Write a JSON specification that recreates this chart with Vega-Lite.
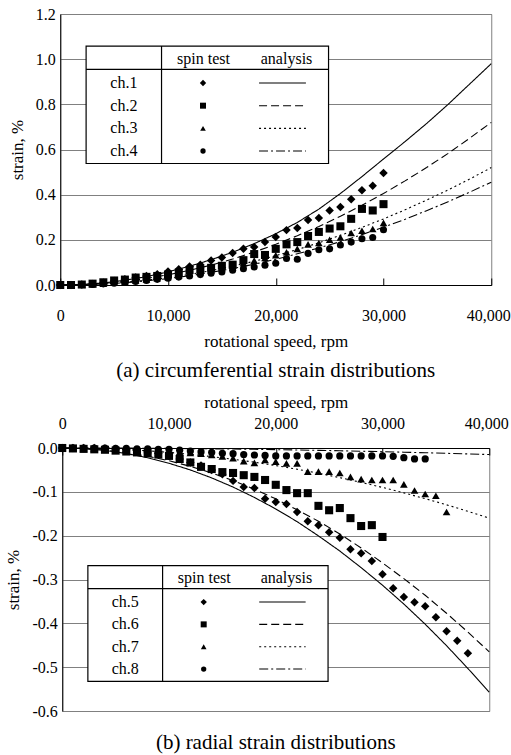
{
  "$schema": "https://vega.github.io/schema/vega-lite/v6.json",
  "background": "white",
  "padding": {"left": 4, "top": 5, "right": 0, "bottom": 0},
  "columns": 1,
  "center": true,
  "spacing": 10,
  "datasets": {
    "t_test": [
      {"ch":"ch.1","rpm":0,"strain":0},{"ch":"ch.1","rpm":1000,"strain":0},{"ch":"ch.1","rpm":2000,"strain":0.002},{"ch":"ch.1","rpm":3000,"strain":0.005},{"ch":"ch.1","rpm":4000,"strain":0.01},{"ch":"ch.1","rpm":5000,"strain":0.018},{"ch":"ch.1","rpm":6000,"strain":0.026},{"ch":"ch.1","rpm":7000,"strain":0.033},{"ch":"ch.1","rpm":8000,"strain":0.04},{"ch":"ch.1","rpm":9000,"strain":0.048},{"ch":"ch.1","rpm":10000,"strain":0.06},{"ch":"ch.1","rpm":11000,"strain":0.07},{"ch":"ch.1","rpm":12000,"strain":0.082},{"ch":"ch.1","rpm":13000,"strain":0.09},{"ch":"ch.1","rpm":14000,"strain":0.108},{"ch":"ch.1","rpm":15000,"strain":0.122},{"ch":"ch.1","rpm":16000,"strain":0.142},{"ch":"ch.1","rpm":17000,"strain":0.16},{"ch":"ch.1","rpm":18000,"strain":0.168},{"ch":"ch.1","rpm":19000,"strain":0.19},{"ch":"ch.1","rpm":20000,"strain":0.213},{"ch":"ch.1","rpm":21000,"strain":0.243},{"ch":"ch.1","rpm":22000,"strain":0.252},{"ch":"ch.1","rpm":23000,"strain":0.288},{"ch":"ch.1","rpm":24000,"strain":0.297},{"ch":"ch.1","rpm":25000,"strain":0.33},{"ch":"ch.1","rpm":26000,"strain":0.345},{"ch":"ch.1","rpm":27000,"strain":0.38},{"ch":"ch.1","rpm":28000,"strain":0.42},{"ch":"ch.1","rpm":29000,"strain":0.44},{"ch":"ch.1","rpm":30000,"strain":0.496},
      {"ch":"ch.2","rpm":0,"strain":0},{"ch":"ch.2","rpm":1000,"strain":0},{"ch":"ch.2","rpm":2000,"strain":0.002},{"ch":"ch.2","rpm":3000,"strain":0.006},{"ch":"ch.2","rpm":4000,"strain":0.012},{"ch":"ch.2","rpm":5000,"strain":0.02},{"ch":"ch.2","rpm":6000,"strain":0.024},{"ch":"ch.2","rpm":7000,"strain":0.033},{"ch":"ch.2","rpm":8000,"strain":0.036},{"ch":"ch.2","rpm":9000,"strain":0.04},{"ch":"ch.2","rpm":10000,"strain":0.046},{"ch":"ch.2","rpm":11000,"strain":0.055},{"ch":"ch.2","rpm":12000,"strain":0.066},{"ch":"ch.2","rpm":13000,"strain":0.07},{"ch":"ch.2","rpm":14000,"strain":0.076},{"ch":"ch.2","rpm":15000,"strain":0.085},{"ch":"ch.2","rpm":16000,"strain":0.09},{"ch":"ch.2","rpm":17000,"strain":0.11},{"ch":"ch.2","rpm":18000,"strain":0.137},{"ch":"ch.2","rpm":19000,"strain":0.133},{"ch":"ch.2","rpm":20000,"strain":0.16},{"ch":"ch.2","rpm":21000,"strain":0.18},{"ch":"ch.2","rpm":22000,"strain":0.19},{"ch":"ch.2","rpm":23000,"strain":0.217},{"ch":"ch.2","rpm":24000,"strain":0.235},{"ch":"ch.2","rpm":25000,"strain":0.25},{"ch":"ch.2","rpm":26000,"strain":0.26},{"ch":"ch.2","rpm":27000,"strain":0.293},{"ch":"ch.2","rpm":28000,"strain":0.337},{"ch":"ch.2","rpm":29000,"strain":0.33},{"ch":"ch.2","rpm":30000,"strain":0.358},
      {"ch":"ch.3","rpm":0,"strain":0},{"ch":"ch.3","rpm":1000,"strain":0},{"ch":"ch.3","rpm":2000,"strain":0.001},{"ch":"ch.3","rpm":3000,"strain":0.003},{"ch":"ch.3","rpm":4000,"strain":0.006},{"ch":"ch.3","rpm":5000,"strain":0.01},{"ch":"ch.3","rpm":6000,"strain":0.015},{"ch":"ch.3","rpm":7000,"strain":0.02},{"ch":"ch.3","rpm":8000,"strain":0.025},{"ch":"ch.3","rpm":9000,"strain":0.03},{"ch":"ch.3","rpm":10000,"strain":0.036},{"ch":"ch.3","rpm":11000,"strain":0.042},{"ch":"ch.3","rpm":12000,"strain":0.05},{"ch":"ch.3","rpm":13000,"strain":0.057},{"ch":"ch.3","rpm":14000,"strain":0.066},{"ch":"ch.3","rpm":15000,"strain":0.075},{"ch":"ch.3","rpm":16000,"strain":0.085},{"ch":"ch.3","rpm":17000,"strain":0.096},{"ch":"ch.3","rpm":18000,"strain":0.108},{"ch":"ch.3","rpm":19000,"strain":0.12},{"ch":"ch.3","rpm":20000,"strain":0.132},{"ch":"ch.3","rpm":21000,"strain":0.145},{"ch":"ch.3","rpm":22000,"strain":0.16},{"ch":"ch.3","rpm":23000,"strain":0.18},{"ch":"ch.3","rpm":24000,"strain":0.186},{"ch":"ch.3","rpm":25000,"strain":0.2},{"ch":"ch.3","rpm":26000,"strain":0.21},{"ch":"ch.3","rpm":27000,"strain":0.23},{"ch":"ch.3","rpm":28000,"strain":0.24},{"ch":"ch.3","rpm":29000,"strain":0.248},{"ch":"ch.3","rpm":30000,"strain":0.275},
      {"ch":"ch.4","rpm":0,"strain":0},{"ch":"ch.4","rpm":1000,"strain":0},{"ch":"ch.4","rpm":2000,"strain":0.001},{"ch":"ch.4","rpm":3000,"strain":0.002},{"ch":"ch.4","rpm":4000,"strain":0.005},{"ch":"ch.4","rpm":5000,"strain":0.008},{"ch":"ch.4","rpm":6000,"strain":0.012},{"ch":"ch.4","rpm":7000,"strain":0.016},{"ch":"ch.4","rpm":8000,"strain":0.02},{"ch":"ch.4","rpm":9000,"strain":0.025},{"ch":"ch.4","rpm":10000,"strain":0.03},{"ch":"ch.4","rpm":11000,"strain":0.035},{"ch":"ch.4","rpm":12000,"strain":0.04},{"ch":"ch.4","rpm":13000,"strain":0.046},{"ch":"ch.4","rpm":14000,"strain":0.052},{"ch":"ch.4","rpm":15000,"strain":0.058},{"ch":"ch.4","rpm":16000,"strain":0.065},{"ch":"ch.4","rpm":17000,"strain":0.072},{"ch":"ch.4","rpm":18000,"strain":0.08},{"ch":"ch.4","rpm":19000,"strain":0.088},{"ch":"ch.4","rpm":20000,"strain":0.096},{"ch":"ch.4","rpm":21000,"strain":0.117},{"ch":"ch.4","rpm":22000,"strain":0.114},{"ch":"ch.4","rpm":23000,"strain":0.14},{"ch":"ch.4","rpm":24000,"strain":0.156},{"ch":"ch.4","rpm":25000,"strain":0.16},{"ch":"ch.4","rpm":26000,"strain":0.177},{"ch":"ch.4","rpm":27000,"strain":0.19},{"ch":"ch.4","rpm":28000,"strain":0.205},{"ch":"ch.4","rpm":29000,"strain":0.21},{"ch":"ch.4","rpm":30000,"strain":0.245}
    ],
    "t_analysis": [
      {"ch":"ch.1","rpm":0,"strain":0},{"ch":"ch.1","rpm":2000,"strain":0.002},{"ch":"ch.1","rpm":4000,"strain":0.009},{"ch":"ch.1","rpm":6000,"strain":0.021},{"ch":"ch.1","rpm":8000,"strain":0.037},{"ch":"ch.1","rpm":10000,"strain":0.058},{"ch":"ch.1","rpm":12000,"strain":0.083},{"ch":"ch.1","rpm":14000,"strain":0.112},{"ch":"ch.1","rpm":16000,"strain":0.145},{"ch":"ch.1","rpm":18000,"strain":0.183},{"ch":"ch.1","rpm":20000,"strain":0.227},{"ch":"ch.1","rpm":22000,"strain":0.277},{"ch":"ch.1","rpm":24000,"strain":0.336},{"ch":"ch.1","rpm":26000,"strain":0.405},{"ch":"ch.1","rpm":28000,"strain":0.48},{"ch":"ch.1","rpm":30000,"strain":0.558},{"ch":"ch.1","rpm":32000,"strain":0.635},{"ch":"ch.1","rpm":34000,"strain":0.715},{"ch":"ch.1","rpm":36000,"strain":0.8},{"ch":"ch.1","rpm":38000,"strain":0.89},{"ch":"ch.1","rpm":40000,"strain":0.98},
      {"ch":"ch.2","rpm":0,"strain":0},{"ch":"ch.2","rpm":2000,"strain":0.0018},{"ch":"ch.2","rpm":4000,"strain":0.0072},{"ch":"ch.2","rpm":6000,"strain":0.016},{"ch":"ch.2","rpm":8000,"strain":0.029},{"ch":"ch.2","rpm":10000,"strain":0.045},{"ch":"ch.2","rpm":12000,"strain":0.065},{"ch":"ch.2","rpm":14000,"strain":0.088},{"ch":"ch.2","rpm":16000,"strain":0.115},{"ch":"ch.2","rpm":18000,"strain":0.146},{"ch":"ch.2","rpm":20000,"strain":0.18},{"ch":"ch.2","rpm":22000,"strain":0.218},{"ch":"ch.2","rpm":24000,"strain":0.259},{"ch":"ch.2","rpm":26000,"strain":0.304},{"ch":"ch.2","rpm":28000,"strain":0.353},{"ch":"ch.2","rpm":30000,"strain":0.405},{"ch":"ch.2","rpm":32000,"strain":0.461},{"ch":"ch.2","rpm":34000,"strain":0.52},{"ch":"ch.2","rpm":36000,"strain":0.583},{"ch":"ch.2","rpm":38000,"strain":0.65},{"ch":"ch.2","rpm":40000,"strain":0.72},
      {"ch":"ch.3","rpm":0,"strain":0},{"ch":"ch.3","rpm":2000,"strain":0.0013},{"ch":"ch.3","rpm":4000,"strain":0.0052},{"ch":"ch.3","rpm":6000,"strain":0.0117},{"ch":"ch.3","rpm":8000,"strain":0.0208},{"ch":"ch.3","rpm":10000,"strain":0.0325},{"ch":"ch.3","rpm":12000,"strain":0.0468},{"ch":"ch.3","rpm":14000,"strain":0.0637},{"ch":"ch.3","rpm":16000,"strain":0.0832},{"ch":"ch.3","rpm":18000,"strain":0.105},{"ch":"ch.3","rpm":20000,"strain":0.13},{"ch":"ch.3","rpm":22000,"strain":0.157},{"ch":"ch.3","rpm":24000,"strain":0.187},{"ch":"ch.3","rpm":26000,"strain":0.22},{"ch":"ch.3","rpm":28000,"strain":0.255},{"ch":"ch.3","rpm":30000,"strain":0.2925},{"ch":"ch.3","rpm":32000,"strain":0.333},{"ch":"ch.3","rpm":34000,"strain":0.376},{"ch":"ch.3","rpm":36000,"strain":0.421},{"ch":"ch.3","rpm":38000,"strain":0.469},{"ch":"ch.3","rpm":40000,"strain":0.52},
      {"ch":"ch.4","rpm":0,"strain":0},{"ch":"ch.4","rpm":2000,"strain":0.0011},{"ch":"ch.4","rpm":4000,"strain":0.0046},{"ch":"ch.4","rpm":6000,"strain":0.0102},{"ch":"ch.4","rpm":8000,"strain":0.0182},{"ch":"ch.4","rpm":10000,"strain":0.0284},{"ch":"ch.4","rpm":12000,"strain":0.041},{"ch":"ch.4","rpm":14000,"strain":0.0557},{"ch":"ch.4","rpm":16000,"strain":0.0728},{"ch":"ch.4","rpm":18000,"strain":0.0921},{"ch":"ch.4","rpm":20000,"strain":0.114},{"ch":"ch.4","rpm":22000,"strain":0.138},{"ch":"ch.4","rpm":24000,"strain":0.164},{"ch":"ch.4","rpm":26000,"strain":0.192},{"ch":"ch.4","rpm":28000,"strain":0.223},{"ch":"ch.4","rpm":30000,"strain":0.256},{"ch":"ch.4","rpm":32000,"strain":0.291},{"ch":"ch.4","rpm":34000,"strain":0.329},{"ch":"ch.4","rpm":36000,"strain":0.369},{"ch":"ch.4","rpm":38000,"strain":0.411},{"ch":"ch.4","rpm":40000,"strain":0.455}
    ],
    "t_leg": [{"ch":"ch.1","row":1},{"ch":"ch.2","row":2},{"ch":"ch.3","row":3},{"ch":"ch.4","row":4}],
    "b_test": [
      {"ch":"ch.5","rpm":0,"strain":0},{"ch":"ch.5","rpm":1000,"strain":0},{"ch":"ch.5","rpm":2000,"strain":0},{"ch":"ch.5","rpm":3000,"strain":0},{"ch":"ch.5","rpm":4000,"strain":-0.001},{"ch":"ch.5","rpm":5000,"strain":-0.002},{"ch":"ch.5","rpm":6000,"strain":-0.004},{"ch":"ch.5","rpm":7000,"strain":-0.006},{"ch":"ch.5","rpm":8000,"strain":-0.009},{"ch":"ch.5","rpm":9000,"strain":-0.012},{"ch":"ch.5","rpm":10000,"strain":-0.018},{"ch":"ch.5","rpm":11000,"strain":-0.025},{"ch":"ch.5","rpm":12000,"strain":-0.033},{"ch":"ch.5","rpm":13000,"strain":-0.04},{"ch":"ch.5","rpm":14000,"strain":-0.05},{"ch":"ch.5","rpm":15000,"strain":-0.06},{"ch":"ch.5","rpm":16000,"strain":-0.075},{"ch":"ch.5","rpm":17000,"strain":-0.089},{"ch":"ch.5","rpm":18000,"strain":-0.091},{"ch":"ch.5","rpm":19000,"strain":-0.116},{"ch":"ch.5","rpm":20000,"strain":-0.123},{"ch":"ch.5","rpm":21000,"strain":-0.128},{"ch":"ch.5","rpm":22000,"strain":-0.146},{"ch":"ch.5","rpm":23000,"strain":-0.167},{"ch":"ch.5","rpm":24000,"strain":-0.176},{"ch":"ch.5","rpm":25000,"strain":-0.192},{"ch":"ch.5","rpm":26000,"strain":-0.205},{"ch":"ch.5","rpm":27000,"strain":-0.231},{"ch":"ch.5","rpm":28000,"strain":-0.24},{"ch":"ch.5","rpm":29000,"strain":-0.258},{"ch":"ch.5","rpm":30000,"strain":-0.288},{"ch":"ch.5","rpm":31000,"strain":-0.32},{"ch":"ch.5","rpm":32000,"strain":-0.34},{"ch":"ch.5","rpm":33000,"strain":-0.352},{"ch":"ch.5","rpm":34000,"strain":-0.361},{"ch":"ch.5","rpm":35000,"strain":-0.386},{"ch":"ch.5","rpm":36000,"strain":-0.418},{"ch":"ch.5","rpm":37000,"strain":-0.44},{"ch":"ch.5","rpm":38000,"strain":-0.468},
      {"ch":"ch.6","rpm":0,"strain":0},{"ch":"ch.6","rpm":1000,"strain":-0.001},{"ch":"ch.6","rpm":2000,"strain":-0.002},{"ch":"ch.6","rpm":3000,"strain":-0.003},{"ch":"ch.6","rpm":4000,"strain":-0.004},{"ch":"ch.6","rpm":5000,"strain":-0.006},{"ch":"ch.6","rpm":6000,"strain":-0.008},{"ch":"ch.6","rpm":7000,"strain":-0.01},{"ch":"ch.6","rpm":8000,"strain":-0.012},{"ch":"ch.6","rpm":9000,"strain":-0.015},{"ch":"ch.6","rpm":10000,"strain":-0.018},{"ch":"ch.6","rpm":11000,"strain":-0.025},{"ch":"ch.6","rpm":12000,"strain":-0.033},{"ch":"ch.6","rpm":13000,"strain":-0.043},{"ch":"ch.6","rpm":14000,"strain":-0.048},{"ch":"ch.6","rpm":15000,"strain":-0.055},{"ch":"ch.6","rpm":16000,"strain":-0.057},{"ch":"ch.6","rpm":17000,"strain":-0.062},{"ch":"ch.6","rpm":18000,"strain":-0.066},{"ch":"ch.6","rpm":19000,"strain":-0.073},{"ch":"ch.6","rpm":20000,"strain":-0.084},{"ch":"ch.6","rpm":21000,"strain":-0.096},{"ch":"ch.6","rpm":22000,"strain":-0.103},{"ch":"ch.6","rpm":23000,"strain":-0.103},{"ch":"ch.6","rpm":24000,"strain":-0.132},{"ch":"ch.6","rpm":25000,"strain":-0.142},{"ch":"ch.6","rpm":26000,"strain":-0.137},{"ch":"ch.6","rpm":27000,"strain":-0.16},{"ch":"ch.6","rpm":28000,"strain":-0.178},{"ch":"ch.6","rpm":29000,"strain":-0.176},{"ch":"ch.6","rpm":30000,"strain":-0.203},
      {"ch":"ch.7","rpm":0,"strain":0},{"ch":"ch.7","rpm":1000,"strain":0},{"ch":"ch.7","rpm":2000,"strain":0},{"ch":"ch.7","rpm":3000,"strain":-0.001},{"ch":"ch.7","rpm":4000,"strain":-0.001},{"ch":"ch.7","rpm":5000,"strain":-0.002},{"ch":"ch.7","rpm":6000,"strain":-0.003},{"ch":"ch.7","rpm":7000,"strain":-0.004},{"ch":"ch.7","rpm":8000,"strain":-0.005},{"ch":"ch.7","rpm":9000,"strain":-0.006},{"ch":"ch.7","rpm":10000,"strain":-0.007},{"ch":"ch.7","rpm":11000,"strain":-0.009},{"ch":"ch.7","rpm":12000,"strain":-0.011},{"ch":"ch.7","rpm":13000,"strain":-0.013},{"ch":"ch.7","rpm":14000,"strain":-0.016},{"ch":"ch.7","rpm":15000,"strain":-0.019},{"ch":"ch.7","rpm":16000,"strain":-0.023},{"ch":"ch.7","rpm":17000,"strain":-0.03},{"ch":"ch.7","rpm":18000,"strain":-0.034},{"ch":"ch.7","rpm":19000,"strain":-0.027},{"ch":"ch.7","rpm":20000,"strain":-0.031},{"ch":"ch.7","rpm":21000,"strain":-0.035},{"ch":"ch.7","rpm":22000,"strain":-0.035},{"ch":"ch.7","rpm":23000,"strain":-0.054},{"ch":"ch.7","rpm":24000,"strain":-0.054},{"ch":"ch.7","rpm":25000,"strain":-0.054},{"ch":"ch.7","rpm":26000,"strain":-0.057},{"ch":"ch.7","rpm":27000,"strain":-0.066},{"ch":"ch.7","rpm":28000,"strain":-0.071},{"ch":"ch.7","rpm":29000,"strain":-0.073},{"ch":"ch.7","rpm":30000,"strain":-0.073},{"ch":"ch.7","rpm":31000,"strain":-0.073},{"ch":"ch.7","rpm":32000,"strain":-0.083},{"ch":"ch.7","rpm":33000,"strain":-0.097},{"ch":"ch.7","rpm":34000,"strain":-0.105},{"ch":"ch.7","rpm":35000,"strain":-0.109},{"ch":"ch.7","rpm":36000,"strain":-0.146},
      {"ch":"ch.8","rpm":0,"strain":0},{"ch":"ch.8","rpm":1000,"strain":0},{"ch":"ch.8","rpm":2000,"strain":0},{"ch":"ch.8","rpm":3000,"strain":0},{"ch":"ch.8","rpm":4000,"strain":0},{"ch":"ch.8","rpm":5000,"strain":-0.001},{"ch":"ch.8","rpm":6000,"strain":-0.001},{"ch":"ch.8","rpm":7000,"strain":-0.002},{"ch":"ch.8","rpm":8000,"strain":-0.002},{"ch":"ch.8","rpm":9000,"strain":-0.003},{"ch":"ch.8","rpm":10000,"strain":-0.003},{"ch":"ch.8","rpm":11000,"strain":-0.005},{"ch":"ch.8","rpm":12000,"strain":-0.007},{"ch":"ch.8","rpm":13000,"strain":-0.009},{"ch":"ch.8","rpm":14000,"strain":-0.01},{"ch":"ch.8","rpm":15000,"strain":-0.012},{"ch":"ch.8","rpm":16000,"strain":-0.013},{"ch":"ch.8","rpm":17000,"strain":-0.015},{"ch":"ch.8","rpm":18000,"strain":-0.016},{"ch":"ch.8","rpm":19000,"strain":-0.017},{"ch":"ch.8","rpm":20000,"strain":-0.018},{"ch":"ch.8","rpm":21000,"strain":-0.018},{"ch":"ch.8","rpm":22000,"strain":-0.018},{"ch":"ch.8","rpm":23000,"strain":-0.018},{"ch":"ch.8","rpm":24000,"strain":-0.018},{"ch":"ch.8","rpm":25000,"strain":-0.018},{"ch":"ch.8","rpm":26000,"strain":-0.018},{"ch":"ch.8","rpm":27000,"strain":-0.018},{"ch":"ch.8","rpm":28000,"strain":-0.018},{"ch":"ch.8","rpm":29000,"strain":-0.018},{"ch":"ch.8","rpm":30000,"strain":-0.018},{"ch":"ch.8","rpm":31000,"strain":-0.019},{"ch":"ch.8","rpm":32000,"strain":-0.022},{"ch":"ch.8","rpm":33000,"strain":-0.025},{"ch":"ch.8","rpm":34000,"strain":-0.025}
    ],
    "b_analysis": [
      {"ch":"ch.5","rpm":0,"strain":0},{"ch":"ch.5","rpm":2000,"strain":-0.0014},{"ch":"ch.5","rpm":4000,"strain":-0.0056},{"ch":"ch.5","rpm":6000,"strain":-0.0125},{"ch":"ch.5","rpm":8000,"strain":-0.0223},{"ch":"ch.5","rpm":10000,"strain":-0.0348},{"ch":"ch.5","rpm":12000,"strain":-0.0501},{"ch":"ch.5","rpm":14000,"strain":-0.0682},{"ch":"ch.5","rpm":16000,"strain":-0.0891},{"ch":"ch.5","rpm":18000,"strain":-0.1128},{"ch":"ch.5","rpm":20000,"strain":-0.139},{"ch":"ch.5","rpm":22000,"strain":-0.168},{"ch":"ch.5","rpm":24000,"strain":-0.2005},{"ch":"ch.5","rpm":26000,"strain":-0.235},{"ch":"ch.5","rpm":28000,"strain":-0.273},{"ch":"ch.5","rpm":30000,"strain":-0.313},{"ch":"ch.5","rpm":32000,"strain":-0.356},{"ch":"ch.5","rpm":34000,"strain":-0.402},{"ch":"ch.5","rpm":36000,"strain":-0.451},{"ch":"ch.5","rpm":38000,"strain":-0.503},{"ch":"ch.5","rpm":40000,"strain":-0.557},
      {"ch":"ch.6","rpm":0,"strain":0},{"ch":"ch.6","rpm":2000,"strain":-0.0012},{"ch":"ch.6","rpm":4000,"strain":-0.0047},{"ch":"ch.6","rpm":6000,"strain":-0.0105},{"ch":"ch.6","rpm":8000,"strain":-0.0186},{"ch":"ch.6","rpm":10000,"strain":-0.0291},{"ch":"ch.6","rpm":12000,"strain":-0.0419},{"ch":"ch.6","rpm":14000,"strain":-0.057},{"ch":"ch.6","rpm":16000,"strain":-0.0744},{"ch":"ch.6","rpm":18000,"strain":-0.0942},{"ch":"ch.6","rpm":20000,"strain":-0.116},{"ch":"ch.6","rpm":22000,"strain":-0.141},{"ch":"ch.6","rpm":24000,"strain":-0.167},{"ch":"ch.6","rpm":26000,"strain":-0.196},{"ch":"ch.6","rpm":28000,"strain":-0.228},{"ch":"ch.6","rpm":30000,"strain":-0.262},{"ch":"ch.6","rpm":32000,"strain":-0.298},{"ch":"ch.6","rpm":34000,"strain":-0.336},{"ch":"ch.6","rpm":36000,"strain":-0.377},{"ch":"ch.6","rpm":38000,"strain":-0.42},{"ch":"ch.6","rpm":40000,"strain":-0.465},
      {"ch":"ch.7","rpm":0,"strain":0},{"ch":"ch.7","rpm":2000,"strain":-0.0004},{"ch":"ch.7","rpm":4000,"strain":-0.0016},{"ch":"ch.7","rpm":6000,"strain":-0.0036},{"ch":"ch.7","rpm":8000,"strain":-0.0064},{"ch":"ch.7","rpm":10000,"strain":-0.01},{"ch":"ch.7","rpm":12000,"strain":-0.0144},{"ch":"ch.7","rpm":14000,"strain":-0.0196},{"ch":"ch.7","rpm":16000,"strain":-0.0256},{"ch":"ch.7","rpm":18000,"strain":-0.0324},{"ch":"ch.7","rpm":20000,"strain":-0.04},{"ch":"ch.7","rpm":22000,"strain":-0.0484},{"ch":"ch.7","rpm":24000,"strain":-0.0576},{"ch":"ch.7","rpm":26000,"strain":-0.0676},{"ch":"ch.7","rpm":28000,"strain":-0.0784},{"ch":"ch.7","rpm":30000,"strain":-0.09},{"ch":"ch.7","rpm":32000,"strain":-0.1024},{"ch":"ch.7","rpm":34000,"strain":-0.1156},{"ch":"ch.7","rpm":36000,"strain":-0.1296},{"ch":"ch.7","rpm":38000,"strain":-0.1444},{"ch":"ch.7","rpm":40000,"strain":-0.16},
      {"ch":"ch.8","rpm":0,"strain":0},{"ch":"ch.8","rpm":2000,"strain":0},{"ch":"ch.8","rpm":4000,"strain":-0.0002},{"ch":"ch.8","rpm":6000,"strain":-0.0003},{"ch":"ch.8","rpm":8000,"strain":-0.0006},{"ch":"ch.8","rpm":10000,"strain":-0.0009},{"ch":"ch.8","rpm":12000,"strain":-0.0014},{"ch":"ch.8","rpm":14000,"strain":-0.0018},{"ch":"ch.8","rpm":16000,"strain":-0.0024},{"ch":"ch.8","rpm":18000,"strain":-0.003},{"ch":"ch.8","rpm":20000,"strain":-0.0038},{"ch":"ch.8","rpm":22000,"strain":-0.0045},{"ch":"ch.8","rpm":24000,"strain":-0.0054},{"ch":"ch.8","rpm":26000,"strain":-0.0063},{"ch":"ch.8","rpm":28000,"strain":-0.0074},{"ch":"ch.8","rpm":30000,"strain":-0.0084},{"ch":"ch.8","rpm":32000,"strain":-0.0096},{"ch":"ch.8","rpm":34000,"strain":-0.0108},{"ch":"ch.8","rpm":36000,"strain":-0.0122},{"ch":"ch.8","rpm":38000,"strain":-0.0135},{"ch":"ch.8","rpm":40000,"strain":-0.015}
    ],
    "b_leg": [{"ch":"ch.5","row":1},{"ch":"ch.6","row":2},{"ch":"ch.7","row":3},{"ch":"ch.8","row":4}]
  },
  "concat": [
    {
      "width": 431,
      "height": 271,
      "title": {"text": "(a) circumferential strain distributions", "orient": "bottom", "offset": 11},
      "layer": [
        {
          "layer": [
            {
              "data": {"name": "t_analysis"},
              "mark": {"type": "line", "color": "black", "strokeWidth": 1.1},
              "encoding": {
                "x": {"field": "rpm", "type": "quantitative", "scale": {"domain": [0, 40000], "nice": false, "zero": false},
                      "axis": {"title": "rotational speed, rpm", "values": [0, 10000, 20000, 30000, 40000], "format": ",d", "tickSize": -7, "labelPadding": 29, "titlePadding": 10, "grid": false,
                               "labelOffset": {"condition": {"test": "datum.value === 40000", "value": -3}, "value": 0}}},
                "y": {"field": "strain", "type": "quantitative", "scale": {"domain": [0, 1.2], "nice": false},
                      "axis": {"title": "strain, %", "values": [0, 0.2, 0.4, 0.6, 0.8, 1.0, 1.2], "format": ".1f", "ticks": false, "grid": true, "labelPadding": 5, "titlePadding": 9}},
                "strokeDash": {"field": "ch", "type": "nominal", "scale": {"domain": ["ch.1", "ch.2", "ch.3", "ch.4"], "range": [[1, 0], [8, 4], [2, 3], [9, 3, 2, 3]]}, "legend": null}
              }
            },
            {
              "data": {"name": "t_test"},
              "mark": {"type": "point", "filled": true, "color": "black", "opacity": 1},
              "encoding": {
                "x": {"field": "rpm", "type": "quantitative"},
                "y": {"field": "strain", "type": "quantitative"},
                "shape": {"field": "ch", "type": "nominal", "scale": {"domain": ["ch.1", "ch.2", "ch.3", "ch.4"], "range": ["diamond", "square", "triangle-up", "circle"]}, "legend": null},
                "size": {"field": "ch", "type": "nominal", "scale": {"domain": ["ch.1", "ch.2", "ch.3", "ch.4"], "range": [72, 50, 80, 50]}, "legend": null}
              }
            }
          ]
        },
        {
          "layer": [
            {
              "data": {"values": [{}]},
              "mark": {"type": "rect", "fill": "white", "stroke": "black", "strokeWidth": 1.2},
              "encoding": {
                "x": {"datum": 2400}, "x2": {"datum": 24900},
                "y": {"datum": -0.63, "type": "quantitative", "scale": {"domain": [-2.044, 9.91], "reverse": true, "nice": false, "zero": false}, "axis": null},
                "y2": {"datum": 4.55}
              }
            },
            {
              "data": {"values": [{}]},
              "mark": {"type": "rule", "color": "black", "strokeWidth": 1.2},
              "encoding": {"x": {"datum": 2400}, "x2": {"datum": 24900}, "y": {"datum": 0.4, "type": "quantitative", "axis": null}}
            },
            {
              "data": {"values": [{}]},
              "mark": {"type": "rule", "color": "black", "strokeWidth": 1.2},
              "encoding": {"x": {"datum": 9400}, "y": {"datum": -0.63, "type": "quantitative", "axis": null}, "y2": {"datum": 4.55}}
            },
            {
              "data": {"values": [{}]},
              "mark": {"type": "text", "fontSize": 16, "align": "center", "baseline": "middle", "color": "black"},
              "encoding": {"x": {"datum": 13300}, "y": {"datum": -0.07, "type": "quantitative", "axis": null}, "text": {"value": "spin test"}}
            },
            {
              "data": {"values": [{}]},
              "mark": {"type": "text", "fontSize": 16, "align": "center", "baseline": "middle", "color": "black"},
              "encoding": {"x": {"datum": 21000}, "y": {"datum": -0.07, "type": "quantitative", "axis": null}, "text": {"value": "analysis"}}
            },
            {
              "data": {"name": "t_leg"},
              "mark": {"type": "text", "fontSize": 16, "align": "center", "baseline": "middle", "color": "black"},
              "encoding": {"x": {"datum": 5900}, "y": {"field": "row", "type": "quantitative", "axis": null}, "text": {"field": "ch"}}
            },
            {
              "data": {"name": "t_leg"},
              "mark": {"type": "point", "filled": true, "color": "black", "opacity": 1},
              "encoding": {"x": {"datum": 13250}, "y": {"field": "row", "type": "quantitative", "axis": null}, "shape": {"field": "ch", "type": "nominal", "legend": null},
                "size": {"field": "ch", "type": "nominal", "scale": {"domain": ["ch.1", "ch.2", "ch.3", "ch.4"], "range": [40, 28, 44, 30]}, "legend": null}}
            },
            {
              "data": {"name": "t_leg"},
              "mark": {"type": "rule", "color": "black", "strokeWidth": 1.1},
              "encoding": {"x": {"datum": 18450}, "x2": {"datum": 22800}, "y": {"field": "row", "type": "quantitative", "axis": null}, "strokeDash": {"field": "ch", "type": "nominal", "legend": null}}
            }
          ]
        }
      ],
      "resolve": {"scale": {"y": "independent", "size": "independent"}}
    },
    {
      "width": 427,
      "height": 263,
      "title": {"text": "(b) radial strain distributions", "orient": "bottom", "offset": 13},
      "layer": [
        {
          "layer": [
            {
              "data": {"name": "b_analysis"},
              "mark": {"type": "line", "color": "black", "strokeWidth": 1.1},
              "encoding": {
                "x": {"field": "rpm", "type": "quantitative", "scale": {"domain": [0, 40000], "nice": false, "zero": false},
                      "axis": {"orient": "top", "title": "rotational speed, rpm", "values": [0, 10000, 20000, 30000, 40000], "format": ",d", "tickSize": -7, "labelPadding": 24, "titlePadding": 4, "grid": false,
                               "labelOffset": {"condition": {"test": "datum.value === 40000", "value": -3}, "value": 0}}},
                "y": {"field": "strain", "type": "quantitative", "scale": {"domain": [-0.6, 0], "nice": false, "zero": false},
                      "axis": {"title": "strain, %", "values": [-0.6, -0.5, -0.4, -0.3, -0.2, -0.1, 0], "labelExpr": "replace(format(datum.value, '.1f'), '\u2212', '-')", "ticks": false, "grid": true, "labelPadding": 5, "titlePadding": 9}},
                "strokeDash": {"field": "ch", "type": "nominal", "scale": {"domain": ["ch.5", "ch.6", "ch.7", "ch.8"], "range": [[1, 0], [8, 4], [2, 3], [9, 3, 2, 3]]}, "legend": null}
              }
            },
            {
              "data": {"name": "b_test"},
              "mark": {"type": "point", "filled": true, "color": "black", "opacity": 1},
              "encoding": {
                "x": {"field": "rpm", "type": "quantitative"},
                "y": {"field": "strain", "type": "quantitative"},
                "shape": {"field": "ch", "type": "nominal", "scale": {"domain": ["ch.5", "ch.6", "ch.7", "ch.8"], "range": ["diamond", "square", "triangle-up", "circle"]}, "legend": null},
                "size": {"field": "ch", "type": "nominal", "scale": {"domain": ["ch.5", "ch.6", "ch.7", "ch.8"], "range": [72, 52, 85, 52]}, "legend": null}
              }
            }
          ]
        },
        {
          "layer": [
            {
              "data": {"values": [{}]},
              "mark": {"type": "rect", "fill": "white", "stroke": "black", "strokeWidth": 1.2},
              "encoding": {
                "x": {"datum": 2400}, "x2": {"datum": 24900},
                "y": {"datum": -0.63, "type": "quantitative", "scale": {"domain": [-5.9, 5.88], "reverse": true, "nice": false, "zero": false}, "axis": null},
                "y2": {"datum": 4.55}
              }
            },
            {
              "data": {"values": [{}]},
              "mark": {"type": "rule", "color": "black", "strokeWidth": 1.2},
              "encoding": {"x": {"datum": 2400}, "x2": {"datum": 24900}, "y": {"datum": 0.4, "type": "quantitative", "axis": null}}
            },
            {
              "data": {"values": [{}]},
              "mark": {"type": "rule", "color": "black", "strokeWidth": 1.2},
              "encoding": {"x": {"datum": 9400}, "y": {"datum": -0.63, "type": "quantitative", "axis": null}, "y2": {"datum": 4.55}}
            },
            {
              "data": {"values": [{}]},
              "mark": {"type": "text", "fontSize": 16, "align": "center", "baseline": "middle", "color": "black"},
              "encoding": {"x": {"datum": 13300}, "y": {"datum": -0.07, "type": "quantitative", "axis": null}, "text": {"value": "spin test"}}
            },
            {
              "data": {"values": [{}]},
              "mark": {"type": "text", "fontSize": 16, "align": "center", "baseline": "middle", "color": "black"},
              "encoding": {"x": {"datum": 21000}, "y": {"datum": -0.07, "type": "quantitative", "axis": null}, "text": {"value": "analysis"}}
            },
            {
              "data": {"name": "b_leg"},
              "mark": {"type": "text", "fontSize": 16, "align": "center", "baseline": "middle", "color": "black"},
              "encoding": {"x": {"datum": 5900}, "y": {"field": "row", "type": "quantitative", "axis": null}, "text": {"field": "ch"}}
            },
            {
              "data": {"name": "b_leg"},
              "mark": {"type": "point", "filled": true, "color": "black", "opacity": 1},
              "encoding": {"x": {"datum": 13250}, "y": {"field": "row", "type": "quantitative", "axis": null}, "shape": {"field": "ch", "type": "nominal", "legend": null},
                "size": {"field": "ch", "type": "nominal", "scale": {"domain": ["ch.5", "ch.6", "ch.7", "ch.8"], "range": [40, 28, 44, 30]}, "legend": null}}
            },
            {
              "data": {"name": "b_leg"},
              "mark": {"type": "rule", "color": "black", "strokeWidth": 1.1},
              "encoding": {"x": {"datum": 18450}, "x2": {"datum": 22800}, "y": {"field": "row", "type": "quantitative", "axis": null}, "strokeDash": {"field": "ch", "type": "nominal", "legend": null}}
            }
          ]
        }
      ],
      "resolve": {"scale": {"y": "independent", "size": "independent"}}
    }
  ],
  "config": {
    "font": "Liberation Serif",
    "view": {"stroke": "#808080", "strokeWidth": 1},
    "axis": {
      "labelFont": "Liberation Serif", "titleFont": "Liberation Serif",
      "labelFontSize": 16, "titleFontSize": 17, "titleFontWeight": "normal",
      "labelColor": "black", "titleColor": "black",
      "domainColor": "black", "domainWidth": 1, "tickColor": "black", "tickWidth": 1,
      "gridColor": "#808080", "gridWidth": 1, "gridOpacity": 1,
      "labelFlush": false, "labelOverlap": false
    },
    "title": {"font": "Liberation Serif", "fontSize": 21, "fontWeight": "normal", "color": "black", "anchor": "middle"},
    "text": {"font": "Liberation Serif"}
  }
}
